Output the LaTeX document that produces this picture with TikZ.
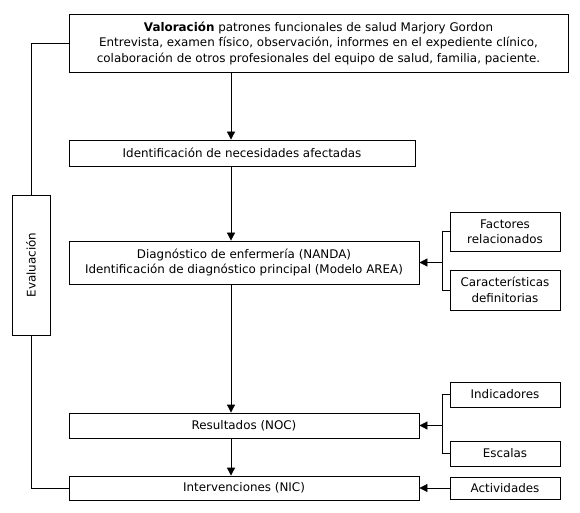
\documentclass[tikz,border=0pt]{standalone}
\usepackage{fontspec}
\setmainfont{DejaVu Sans}
\usetikzlibrary{arrows.meta}
\begin{document}
\begin{tikzpicture}[x=1bp,y=-1bp,
  box/.style={draw=black,line width=0.8bp,fill=white,inner sep=0pt,align=center,
    font=\fontsize{11.9bp}{15.5bp}\selectfont},
  conn/.style={line width=0.8bp},
  arr/.style={line width=0.8bp,-{Triangle[length=8bp,width=8bp]}}]
\fill[white] (0,0) rectangle (580,513);
\useasboundingbox (0,0) rectangle (580,513);
\coordinate (ax) at (231,0);
\coordinate (bx) at (442,0);
\node[box,minimum width=499bp,minimum height=58bp] (val) at (318.5,43)
  {\textbf{Valoración} patrones funcionales de salud Marjory Gordon\\
   Entrevista, examen físico, observación, informes en el expediente clínico,\\
   colaboración de otros profesionales del equipo de salud, familia, paciente.};
\node[box,minimum width=346bp,minimum height=26bp] (ident) at (242,153)
  {Identificación de necesidades afectadas};
\node[box,minimum width=350bp,minimum height=43bp] (diag) at (244,262.5)
  {Diagnóstico de enfermería (NANDA)\\Identificación de diagnóstico principal (Modelo AREA)};
\node[box,minimum width=350bp,minimum height=25bp] (res) at (244,425.5) {Resultados (NOC)};
\node[box,minimum width=350bp,minimum height=24bp] (int) at (244,488) {Intervenciones (NIC)};
\node[box,minimum width=38bp,minimum height=140bp] (eval) at (31,265) {\rotatebox{90}{Evaluación}};
\node[box,minimum width=110bp,minimum height=39bp] (fac) at (505,231.5) {Factores\\relacionados};
\node[box,minimum width=110bp,minimum height=40bp] (car) at (505,290) {Características\\definitorias};
\node[box,minimum width=110bp,minimum height=25bp] (ind) at (505,394.5) {Indicadores};
\node[box,minimum width=110bp,minimum height=25bp] (esc) at (505,453.5) {Escalas};
\node[box,minimum width=110bp,minimum height=22bp] (act) at (505,488) {Actividades};
% main flow
\draw[arr] (val.south -| ax) -- (ident.north -| ax);
\draw[arr] (ident.south -| ax) -- (diag.north -| ax);
\draw[arr] (diag.south -| ax) -- (res.north -| ax);
\draw[arr] (res.south -| ax) -- (int.north -| ax);
% evaluation loop
\draw[conn] (val.west) -| (eval.north);
\draw[conn] (eval.south) |- (int.west);
% side brackets
\draw[conn] (fac.west) -- (fac.west -| bx) -- (car.west -| bx) -- (car.west);
\draw[arr] (diag.east -| bx) -- (diag.east);
\draw[conn] (ind.west) -- (ind.west -| bx) -- (esc.west -| bx) -- (esc.west);
\draw[arr] (res.east -| bx) -- (res.east);
\draw[arr] (act.west) -- (int.east);
\end{tikzpicture}
\end{document}
